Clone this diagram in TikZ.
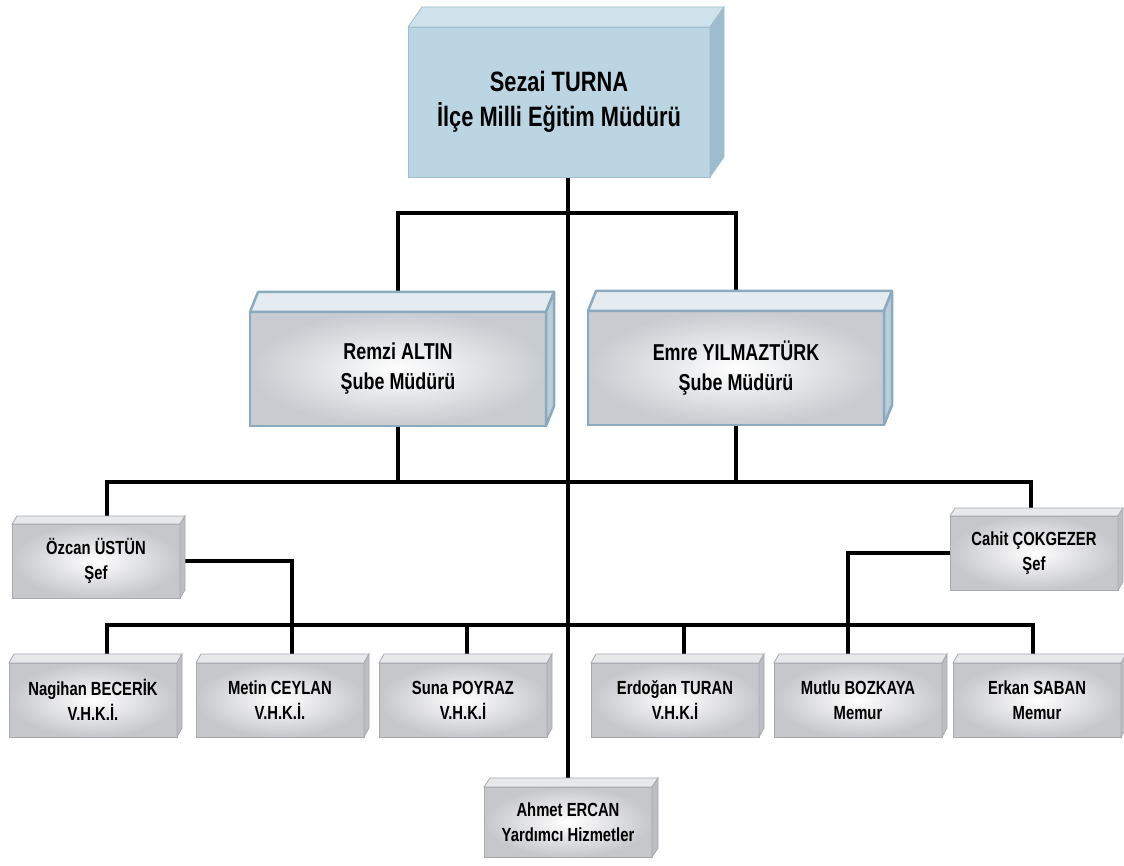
\documentclass[tikz,border=0pt]{standalone}
\usepackage{fontspec}
\setmainfont{Liberation Sans}[FakeStretch=0.78]
\usetikzlibrary{backgrounds}
\definecolor{headfront}{RGB}{187,213,226}
\definecolor{headtop}{RGB}{206,226,236}
\definecolor{headside}{RGB}{158,188,205}
\definecolor{headline}{RGB}{160,190,205}
\definecolor{chieffront}{RGB}{200,203,208}
\definecolor{chieftop}{RGB}{228,236,242}
\definecolor{chiefside}{RGB}{185,206,218}
\definecolor{chiefline}{RGB}{140,170,190}
\definecolor{stafffront}{RGB}{198,199,203}
\definecolor{stafftop}{RGB}{230,232,234}
\definecolor{staffside}{RGB}{188,190,194}
\definecolor{staffline}{RGB}{168,170,175}
\begin{document}
\begin{tikzpicture}[x=1pt,y=-1pt]
      \tikzstyle{box}=[inner sep=0pt,outer sep=0pt,align=center,text=black]
      \tikzstyle{head}=[box,fill=headfront,draw=headline,line width=0.8pt,minimum width=302pt,minimum height=150pt,font=\bfseries\fontsize{28}{35}\selectfont]
      \tikzstyle{chief}=[box,inner color=white,outer color=chieffront,draw=chiefline,line width=2.5pt,minimum width=296pt,minimum height=114pt,font=\bfseries\fontsize{23}{30}\selectfont]
      \tikzstyle{staff}=[box,inner color=white,outer color=stafffront,draw=staffline,line width=0.8pt,minimum width=168pt,minimum height=74pt,font=\bfseries\fontsize{19}{25}\selectfont]
      \tikzstyle{head top}=[fill=headtop,draw=headline,line width=0.8pt]
      \tikzstyle{head side}=[fill=headside,draw=headline,line width=0.8pt]
      \tikzstyle{chief top}=[fill=chieftop,draw=chiefline,line width=2.5pt,line join=round]
      \tikzstyle{chief side}=[fill=chiefside,draw=chiefline,line width=2.5pt,line join=round]
      \tikzstyle{staff top}=[fill=stafftop,draw=staffline,line width=0.8pt]
      \tikzstyle{staff side}=[fill=staffside,draw=staffline,line width=0.8pt]
      \tikzstyle{link}=[line width=3.5pt]

      \useasboundingbox (0,0) rectangle (1124,866);

      \node[head] (sezai) at (559,102) {Sezai TURNA\\İlçe Milli Eğitim Müdürü};
      \node[chief] (remzi) at (398,369) {Remzi ALTIN\\Şube Müdürü};
      \node[chief] (emre) at (736,368) {Emre YILMAZTÜRK\\Şube Müdürü};
      \node[staff] (ozcan) at (96,561) {Özcan ÜSTÜN\\Şef};
      \node[staff] (cahit) at (1034,553) {Cahit ÇOKGEZER\\Şef};
      \node[staff] (nagihan) at (93,700) {Nagihan BECERİK\\V.H.K.İ.};
      \node[staff] (metin) at (280,700) {Metin CEYLAN\\V.H.K.İ.};
      \node[staff] (suna) at (463,700) {Suna POYRAZ\\V.H.K.İ};
      \node[staff] (erdogan) at (675,700) {Erdoğan TURAN\\V.H.K.İ};
      \node[staff] (mutlu) at (858,700) {Mutlu BOZKAYA\\Memur};
      \node[staff] (erkan) at (1037,700) {Erkan SABAN\\Memur};
      \node[staff,minimum height=70pt] (ahmet) at (568,822) {Ahmet ERCAN\\Yardımcı Hizmetler};

      % top and side faces
      \foreach \n/\dx/\dy/\f in {sezai/14/20/head, remzi/8/20/chief, emre/8/20/chief,
          ozcan/5/8/staff, cahit/5/8/staff, nagihan/5/9/staff, metin/5/9/staff, suna/5/9/staff,
          erdogan/5/9/staff, mutlu/5/9/staff, erkan/5/9/staff, ahmet/6/9/staff} {
        \filldraw[\f\space top] (\n.north west) -- ++(\dx,-\dy) -- ([xshift=\dx pt,yshift=\dy pt]\n.north east) -- (\n.north east) -- cycle;
        \filldraw[\f\space side] (\n.north east) -- ([xshift=\dx pt,yshift=\dy pt]\n.north east) -- ([xshift=\dx pt,yshift=\dy pt]\n.south east) -- (\n.south east) -- cycle;
      }

      \coordinate (bus1) at (568,213);
      \coordinate (bus2) at (568,482);
      \coordinate (bus3) at (568,625);

      \begin{pgfonlayer}{background}
        \fill[white] (0,0) rectangle (1124,866);
        \draw[link] (ahmet.north |- sezai.south) -- (ahmet.north);
        \draw[link] (remzi.north) |- (bus1) -| (emre.north);
        \draw[link] ([xshift=11pt]ozcan.north) |- (bus2) -| ([xshift=-3pt]cahit.north);
        \draw[link] (remzi.south) -- (remzi.south |- bus2);
        \draw[link] (emre.south) -- (emre.south |- bus2);
        \draw[link] ([xshift=14pt]nagihan.north) |- (bus3) -| ([xshift=-4pt]erkan.north);
        \draw[link] (ozcan.east) -| ([xshift=12pt]metin.north);
        \draw[link] ([xshift=4pt]suna.north) -- ([xshift=4pt]suna.north |- bus3);
        \draw[link] ([xshift=9pt]erdogan.north) -- ([xshift=9pt]erdogan.north |- bus3);
        \draw[link] (cahit.west) -| ([xshift=-10pt]mutlu.north);
      \end{pgfonlayer}
    \end{tikzpicture}
\end{document}
